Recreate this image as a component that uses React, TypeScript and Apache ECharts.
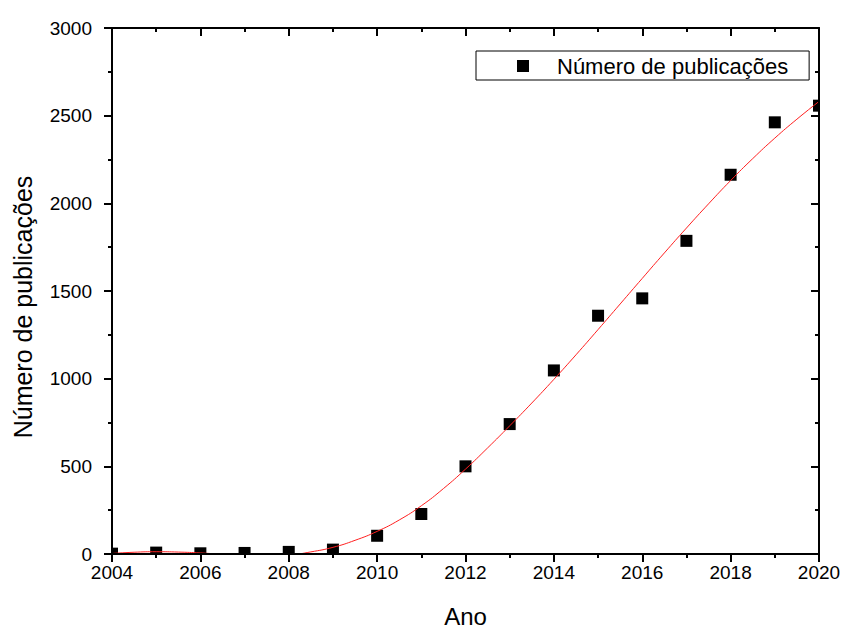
import React, { useEffect, useRef } from "react";
import * as echarts from "echarts";

// Publications per year
const years = [2004, 2005, 2006, 2007, 2008, 2009, 2010, 2011, 2012, 2013, 2014, 2015, 2016, 2017, 2018, 2019, 2020];
const publications = [2, 8, 4, 6, 12, 25, 104, 228, 500, 741, 1047, 1359, 1458, 1786, 2163, 2462, 2557];

// Fitted curve, sampled every half year
const fitYears = [
  2004, 2004.5, 2005, 2005.5, 2006, 2006.5, 2007, 2007.5, 2008, 2008.5, 2009, 2009.5,
  2010, 2010.5, 2011, 2011.5, 2012, 2012.5, 2013, 2013.5, 2014, 2014.5, 2015, 2015.5,
  2016, 2016.5, 2017, 2017.5, 2018, 2018.5, 2019, 2019.5, 2020,
];
const fitValues = [
  3, 10, 13, 11, 6, -2, -10, -13, -7, 12, 38, 78,
  129, 194, 275, 373, 484, 605, 731, 861, 996, 1136, 1280, 1426,
  1572, 1717, 1859, 1997, 2130, 2255, 2372, 2480, 2581,
];

const SERIES_NAME = "Número de publicações";
const FONT = "'Liberation Sans', Arial, sans-serif";

export default function App() {
  const ref = useRef<HTMLDivElement>(null);

  useEffect(() => {
    if (!ref.current) return;
    const chart = echarts.init(ref.current, undefined, { renderer: "svg" });

    const axisLine = { show: true, onZero: false, lineStyle: { color: "#000", width: 2 } };
    const plain = (v: number) => String(v);
    const tick = (inside: boolean) => ({
      show: true,
      inside,
      length: 8,
      lineStyle: { color: "#000", width: 2 },
    });
    const minor = { show: true, splitNumber: 2, length: 4, lineStyle: { color: "#000", width: 2 } };

    chart.setOption({
      animation: false,
      backgroundColor: "#fff",
      textStyle: { fontFamily: FONT, color: "#000" },
      grid: {
        left: 112,
        top: 28,
        right: 26,
        bottom: 74,
        containLabel: false,
        outerBoundsMode: "none",
      },
      legend: {
        left: 476,
        top: 51,
        padding: [4, 21, 3, 41],
        borderColor: "#000",
        borderWidth: 1,
        backgroundColor: "#fff",
        itemWidth: 35,
        itemHeight: 12,
        data: [
          {
            name: SERIES_NAME,
            icon: "path://M0,0H12V12H0Z M35,0L35,12",
            itemStyle: { color: "#000" },
          },
        ],
        textStyle: { fontFamily: FONT, fontSize: 22, color: "#000", lineHeight: 22 },
      },
      xAxis: [
        {
          type: "value",
          position: "bottom",
          min: 2004,
          max: 2020,
          interval: 2,
          z: 5,
          name: "Ano",
          nameLocation: "middle",
          nameGap: 50,
          nameTextStyle: { fontFamily: FONT, fontSize: 24, color: "#000" },
          axisLine,
          axisTick: tick(false),
          minorTick: minor,
          axisLabel: { formatter: plain, fontFamily: FONT, fontSize: 19, color: "#000", margin: 9 },
          splitLine: { show: false },
        },
        {
          type: "value",
          position: "top",
          min: 2004,
          max: 2020,
          interval: 2,
          z: 5,
          axisLine,
          axisTick: tick(true),
          minorTick: minor,
          axisLabel: { show: false },
          splitLine: { show: false },
        },
      ],
      yAxis: [
        {
          type: "value",
          position: "left",
          min: 0,
          max: 3000,
          interval: 500,
          z: 5,
          name: SERIES_NAME,
          nameLocation: "middle",
          nameGap: 77,
          nameRotate: 90,
          nameTextStyle: {
            fontFamily: FONT,
            fontSize: 25,
            color: "#000",
            padding: [0, 32, 0, 0],
          },
          axisLine,
          axisTick: tick(false),
          minorTick: minor,
          axisLabel: { formatter: plain, fontFamily: FONT, fontSize: 19, color: "#000", margin: 20 },
          splitLine: { show: false },
        },
        {
          type: "value",
          position: "right",
          min: 0,
          max: 3000,
          interval: 500,
          z: 5,
          axisLine,
          axisTick: tick(true),
          minorTick: minor,
          axisLabel: { show: false },
          splitLine: { show: false },
        },
      ],
      series: [
        {
          name: SERIES_NAME,
          type: "custom",
          xAxisIndex: 0,
          yAxisIndex: 0,
          clip: true,
          z: 2,
          itemStyle: { color: "#000" },
          encode: { x: 0, y: 1 },
          data: years.map((y, i) => [y, publications[i]]),
          renderItem: (_params: any, api: any) => {
            const p = api.coord([api.value(0), api.value(1)]);
            const s = 12;
            return {
              type: "rect",
              shape: { x: p[0] - s / 2, y: p[1] - s / 2, width: s, height: s },
              style: { fill: "#000" },
            };
          },
        },
        {
          name: "Ajuste",
          type: "line",
          xAxisIndex: 0,
          yAxisIndex: 0,
          clip: true,
          z: 3,
          smooth: true,
          showSymbol: false,
          symbol: "none",
          lineStyle: { color: "#ff2020", width: 1 },
          data: fitYears.map((y, i) => [y, fitValues[i]]),
        },
      ],
    });

    return () => chart.dispose();
  }, []);

  return (
    <div
      ref={ref}
      style={{ position: "fixed", left: 0, top: 0, width: 845, height: 628, background: "#fff" }}
    />
  );
}
